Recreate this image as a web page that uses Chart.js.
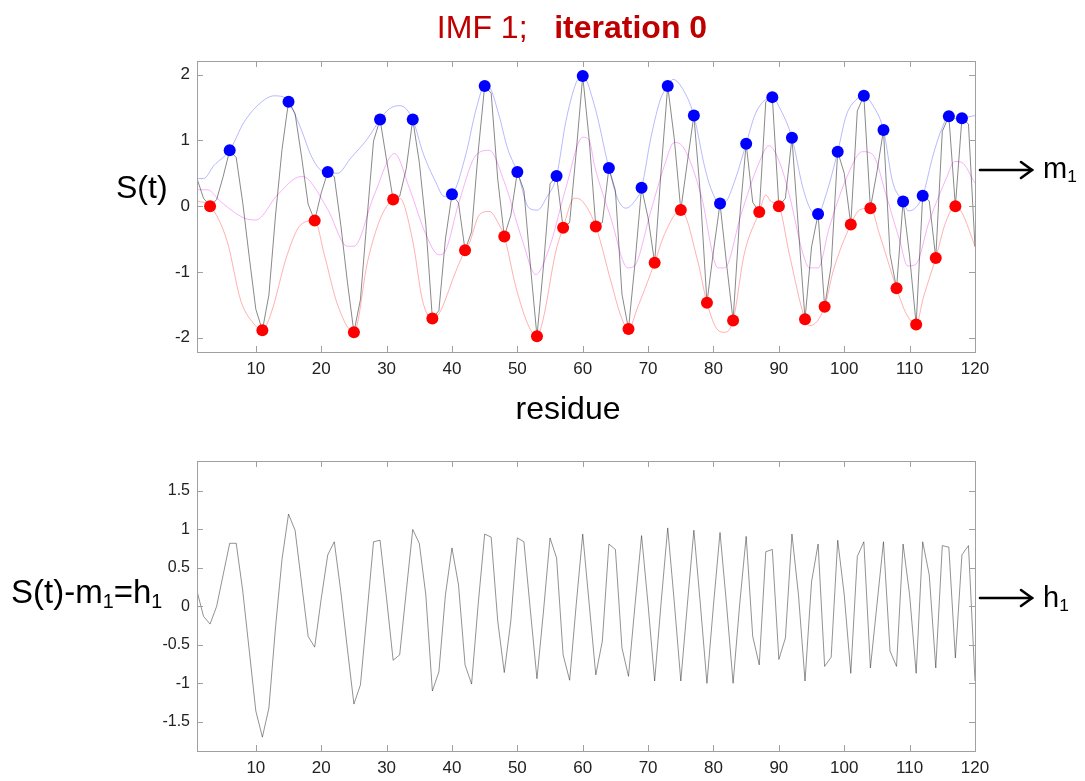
<!DOCTYPE html>
<html>
<head>
<meta charset="utf-8">
<script src="https://cdn.jsdelivr.net/npm/chart.js@4.4.1/dist/chart.umd.min.js"></script>
<style>
  body { margin: 0; background: #fff; width: 1085px; height: 781px; overflow: hidden; position: relative; font-family: "Liberation Sans", Arial, sans-serif; }
  canvas { position: absolute; left: 0; }
  #top { top: 0; }
  #bottom { top: 400px; }
  .lbl { position: absolute; line-height: 1; white-space: nowrap; color: #000; }
  .lbl sub { font-size: 0.6em; vertical-align: -0.25em; line-height: 0; }
  svg { position: absolute; left: 0; top: 0; }
</style>
</head>
<body>
<canvas id="top" width="1085" height="400"></canvas>
<canvas id="bottom" width="1085" height="381"></canvas>

<div class="lbl" style="left:572px; top:11px; transform:translateX(-50%); font-size:32px; color:#c00000;">IMF 1;&nbsp;&nbsp; <b>iteration 0</b></div>
<div class="lbl" style="left:116px; top:171px; font-size:32px;">S(t)</div>
<div class="lbl" style="left:568px; top:392px; transform:translateX(-50%); font-size:32px;">residue</div>
<div class="lbl" style="left:1043px; top:154px; font-size:29px;">m<sub>1</sub></div>
<div class="lbl" style="left:11px; top:575px; font-size:33px;">S(t)-m<sub>1</sub>=h<sub>1</sub></div>
<div class="lbl" style="left:1043px; top:583px; font-size:29px;">h<sub>1</sub></div>

<svg width="1085" height="781">
  <g stroke="#000" stroke-width="2.6" fill="none" stroke-linecap="round">
    <line x1="980" y1="170" x2="1032" y2="170"/>
    <polyline points="1021,162 1032,170 1021,178"/>
    <line x1="980" y1="598" x2="1032" y2="598"/>
    <polyline points="1021,590 1032,598 1021,606"/>
  </g>
</svg>

<script>
'use strict'

// sample index (residue)
const t = [1, 2, 3, 4, 5, 6, 7, 8, 9, 10, 11, 12, 13, 14, 15, 16, 17, 18, 19, 20,
    21, 22, 23, 24, 25, 26, 27, 28, 29, 30, 31, 32, 33, 34, 35, 36, 37, 38, 39, 40,
    41, 42, 43, 44, 45, 46, 47, 48, 49, 50, 51, 52, 53, 54, 55, 56, 57, 58, 59, 60,
    61, 62, 63, 64, 65, 66, 67, 68, 69, 70, 71, 72, 73, 74, 75, 76, 77, 78, 79, 80,
    81, 82, 83, 84, 85, 86, 87, 88, 89, 90, 91, 92, 93, 94, 95, 96, 97, 98, 99, 100,
    101, 102, 103, 104, 105, 106, 107, 108, 109, 110, 111, 112, 113, 114, 115, 116, 117, 118, 119, 120];

// signal S(t)
const signal = [0.42, 0.12, 0.00, 0.10, 0.45, 0.85, 0.74, 0.05, -0.78, -1.57,
    -1.89, -1.35, -0.15, 0.86, 1.59, 1.41, 0.75, 0.03, -0.22, 0.20,
    0.52, 0.45, -0.29, -1.15, -1.92, -1.42, -0.20, 0.99, 1.32, 0.70,
    0.10, 0.15, 0.57, 1.32, 0.67, -0.28, -1.71, -1.59, -0.50, 0.18,
    0.05, -0.67, -0.39, 0.82, 1.83, 1.72, 0.41, -0.46, -0.14, 0.52,
    0.24, -0.91, -1.98, -0.91, 0.34, 0.46, -0.33, -0.25, 0.82, 1.98,
    1.00, -0.31, -0.25, 0.58, 0.24, -1.34, -1.87, -0.86, 0.28, -0.18,
    -0.86, 0.56, 1.83, 1.03, -0.06, 0.67, 1.38, 0.17, -1.47, -0.68,
    0.04, -0.88, -1.74, -0.18, 0.95, 0.06, -0.09, 1.59, 1.66, 0.00,
    0.12, 1.04, -0.35, -1.72, -0.62, -0.12, -1.53, -0.91, 0.83, 0.50,
    -0.28, 1.45, 1.68, -0.03, 0.52, 1.16, -0.73, -1.25, 0.07, -0.76,
    -1.80, 0.16, 0.08, -0.79, 1.14, 1.37, 0.00, 1.34, 1.25, -0.62];

// local maxima / minima
const maxT = [6, 15, 21, 29, 34, 40, 45, 50, 56, 60, 64, 69, 73, 77, 81, 85, 89, 92, 96, 99, 103, 106, 109, 112, 116, 118];
const maxS = [0.85, 1.59, 0.52, 1.32, 1.32, 0.18, 1.83, 0.52, 0.46, 1.98, 0.58, 0.28, 1.83, 1.38, 0.04, 0.95, 1.66, 1.04, -0.12, 0.83, 1.68, 1.16, 0.07, 0.16, 1.37, 1.34];
const minT = [3, 11, 19, 25, 31, 37, 42, 48, 53, 57, 62, 67, 71, 75, 79, 83, 87, 90, 94, 97, 101, 104, 108, 111, 114, 117];
const minS = [0.00, -1.89, -0.22, -1.92, 0.10, -1.71, -0.67, -0.46, -1.98, -0.33, -0.31, -1.87, -0.86, -0.06, -1.47, -1.74, -0.09, 0.00, -1.72, -1.53, -0.28, -0.03, -1.25, -1.80, -0.79, 0.00];

// upper envelope
const upperT = [1, 2, 3.6, 6, 8.2, 10.8, 12.8, 14, 15, 16.9, 18.4, 19.9, 21, 22.5, 24.5, 27.1, 29, 30.4, 32, 34,
    35.5, 37.5, 38.8, 40, 42.1, 43.7, 45, 45.7, 47.2, 48.5, 50, 51.8, 53.1, 54.4, 56, 57.4, 59, 60, 61.8, 64,
    65.3, 66.6, 67.9, 69, 70.4, 71.9, 73, 73.8, 75, 77, 78.6, 79.6, 81, 81.9, 83.2, 85, 86.3, 87.5, 89, 90.1,
    92, 93.7, 94.9, 96, 97.2, 99, 100.3, 101.8, 103, 104.4, 106, 107.4, 109, 109.8, 110.6, 112, 113.6, 115, 116, 117, 118, 120];
const upperS = [0.42, 0.42, 0.62, 0.85, 1.28, 1.58, 1.68, 1.67, 1.59, 1.18, 0.78, 0.55, 0.52, 0.50, 0.73, 1.03, 1.32, 1.48, 1.53, 1.32,
    0.83, 0.37, 0.15, 0.18, 0.78, 1.48, 1.83, 1.81, 1.38, 0.88, 0.52, -0.03, -0.06, 0.12, 0.46, 1.28, 1.88, 1.98, 1.53, 0.58,
    0.12, -0.03, 0.07, 0.28, 1.03, 1.63, 1.83, 1.93, 1.83, 1.38, 0.62, 0.27, 0.04, 0.07, 0.37, 0.95, 1.38, 1.58, 1.66, 1.50,
    1.04, 0.27, -0.06, -0.12, 0.17, 0.83, 1.38, 1.62, 1.68, 1.53, 1.16, 0.37, 0.07, -0.07, -0.05, 0.16, 0.78, 1.20, 1.37, 1.33, 1.34, 1.38];

// lower envelope
const lowerT = [1, 3, 5.6, 7.7, 9.7, 11, 12.3, 14.8, 16.9, 19, 20.5, 22.5, 25, 27.1, 29, 31, 32, 34, 35.5, 37,
    38, 40.6, 42, 42.6, 44.2, 45.7, 47.2, 48, 49.8, 51.8, 53, 53.9, 55.9, 57, 58.7, 60, 62, 64.3, 65.9, 67,
    68.4, 71, 72.5, 75, 77.6, 79, 80.7, 81.7, 83, 84.7, 87, 88, 88.8, 90, 91.6, 94, 94.7, 97, 98.3, 101,
    102.3, 104, 105.4, 108, 109.5, 111, 112.1, 114, 115.5, 117, 118, 120];
const lowerS = [0.08, 0.00, -0.53, -1.44, -1.79, -1.89, -1.64, -0.74, -0.28, -0.22, -0.75, -1.50, -1.92, -0.84, -0.20, 0.10, 0.12, -0.53, -1.44, -1.71,
    -1.64, -0.99, -0.67, -0.58, -0.13, -0.08, -0.28, -0.46, -1.24, -1.84, -1.98, -1.74, -0.68, -0.33, 0.12, 0.07, -0.31, -1.14, -1.69, -1.87,
    -1.54, -0.86, -0.43, -0.06, -0.84, -1.47, -1.89, -1.92, -1.74, -0.73, -0.09, 0.17, 0.07, 0.00, -0.73, -1.72, -1.82, -1.53, -0.99, -0.28,
    -0.06, -0.03, -0.43, -1.25, -1.64, -1.80, -1.39, -0.79, -0.25, 0.00, -0.10, -0.61];

// mean envelope m1 (magenta curve)
const meanT = [1, 2.6, 4.6, 8.2, 10, 13.3, 16.9, 17.9, 21, 24, 25, 28.1, 31.2, 33.5, 36, 38, 38.8, 41.1, 43.7, 45.7,
    48, 50.8, 52.8, 54.9, 57.4, 60, 61, 61.8, 64.3, 66.9, 67.9, 70.4, 72.5, 74, 75.5, 78.1, 80.7, 81.7, 84.2, 86.8,
    88.5, 90.1, 91.6, 93.7, 94.7, 96, 97.7, 100.3, 102.8, 104.4, 106.4, 108.5, 109.7, 110.9, 113, 115.6, 116.9, 117.9, 120];
const meanS = [0.25, 0.25, 0.07, -0.18, -0.21, 0.17, 0.45, 0.42, -0.05, -0.61, -0.61, 0.17, 0.80, 0.27, -0.43, -0.74, -0.71, 0.07, 0.78, 0.85,
    0.37, -0.53, -1.04, -0.63, 0.27, 1.05, 1.00, 0.62, -0.18, -0.94, -0.91, -0.08, 0.62, 0.97, 0.88, 0.17, -0.94, -0.94, -0.13, 0.62,
    0.92, 0.67, 0.17, -0.73, -0.94, -0.94, -0.33, 0.42, 0.83, 0.78, 0.17, -0.53, -0.91, -0.89, -0.23, 0.42, 0.68, 0.67, 0.35];

// h1 = S(t) - m1
const h1 = [0.20, -0.13, -0.23, 0.00, 0.41, 0.82, 0.82, 0.20, -0.58, -1.36,
    -1.70, -1.32, -0.28, 0.61, 1.20, 0.99, 0.30, -0.39, -0.53, 0.10,
    0.67, 0.84, 0.19, -0.55, -1.27, -1.02, -0.10, 0.84, 0.86, 0.10,
    -0.70, -0.63, 0.19, 1.00, 0.82, 0.15, -1.10, -0.85, 0.15, 0.76,
    0.28, -0.76, -1.01, 0.02, 0.94, 0.90, -0.19, -0.86, -0.19, 0.89,
    0.84, -0.06, -0.94, -0.06, 0.89, 0.63, -0.63, -0.96, 0.02, 0.94,
    0.02, -0.89, -0.45, 0.81, 0.74, -0.54, -0.91, 0.02, 0.92, 0.02,
    -0.97, 0.06, 1.02, 0.06, -0.97, 0.02, 0.99, 0.02, -1.00, 0.02,
    0.96, 0.02, -1.00, 0.02, 0.91, -0.39, -0.76, 0.71, 0.74, -0.69,
    -0.41, 0.94, 0.15, -0.97, 0.32, 0.81, -0.78, -0.66, 0.86, 0.15,
    -0.87, 0.65, 0.84, -0.80, 0.02, 0.84, -0.58, -0.78, 0.81, 0.15,
    -0.87, 0.84, 0.41, -0.80, 0.79, 0.77, -0.67, 0.67, 0.79, -0.97];

// tick labels
const xTicks = [10, 20, 30, 40, 50, 60, 70, 80, 90, 100, 110, 120];
const yTicksTop = [-2, -1, 0, 1, 2];
const yTicksBottom = [-1.5, -1, -0.5, 0, 0.5, 1, 1.5];

function pts(xs, ys) {
    return xs.map((x, i) => ({ x: x, y: ys[i] }));
}

const framePlugin = {
    id: 'frame',
    afterDraw(chart) {
        const ctx = chart.ctx;
        const a = chart.chartArea;
        const xs = chart.scales.x;
        const ys = chart.scales.y;
        ctx.save();
        ctx.strokeStyle = '#a0a0a0';
        ctx.lineWidth = 1;
        ctx.strokeRect(Math.round(a.left) + 0.5, Math.round(a.top) + 0.5, Math.round(a.right - a.left), Math.round(a.bottom - a.top));
        ctx.beginPath();
        xs.ticks.forEach(tk => {
            const px = Math.round(xs.getPixelForValue(tk.value)) + 0.5;
            ctx.moveTo(px, a.bottom); ctx.lineTo(px, a.bottom - 6);
            ctx.moveTo(px, a.top); ctx.lineTo(px, a.top + 6);
        });
        ys.ticks.forEach(tk => {
            const py = Math.round(ys.getPixelForValue(tk.value)) + 0.5;
            ctx.moveTo(a.left, py); ctx.lineTo(a.left + 6, py);
            ctx.moveTo(a.right, py); ctx.lineTo(a.right - 6, py);
        });
        ctx.stroke();
        ctx.restore();
    }
};

function axes(yMin, yMax, yTicks, yFont) {
    return {
        x: {
            type: 'linear', min: 1, max: 120,
            grid: { display: false, drawTicks: false },
            border: { display: false },
            afterBuildTicks: s => { s.ticks = xTicks.map(v => ({ value: v })); },
            afterFit: s => { s.height = 30; },
            ticks: { color: '#222', padding: 7, font: { family: 'Liberation Sans', size: 17 }, maxRotation: 0, callback: v => String(v) }
        },
        y: {
            type: 'linear', min: yMin, max: yMax,
            grid: { display: false, drawTicks: false },
            border: { display: false },
            afterBuildTicks: s => { s.ticks = yTicks.map(v => ({ value: v })); },
            afterFit: s => { s.width = 50; },
            ticks: { color: '#222', padding: 7, font: { family: 'Liberation Sans', size: yFont }, callback: v => String(v) }
        }
    };
}

const common = {
    responsive: false,
    animation: false,
    events: [],
    plugins: { legend: { display: false }, tooltip: { enabled: false } }
};

new Chart(document.getElementById('top'), {
    type: 'scatter',
    data: {
        datasets: [
            {
                data: pts(maxT, maxS), showLine: false, order: 0,
                pointRadius: 6, pointBorderWidth: 0, pointBackgroundColor: '#0000ff'
            },
            {
                data: pts(minT, minS), showLine: false, order: 1,
                pointRadius: 6, pointBorderWidth: 0, pointBackgroundColor: '#ff0000'
            },
            {
                data: pts(t, signal), showLine: true, order: 2,
                borderColor: 'rgba(40,40,40,0.55)', borderWidth: 1, pointRadius: 0
            },
            {
                data: pts(upperT, upperS), showLine: true, order: 3, cubicInterpolationMode: 'monotone',
                borderColor: 'rgba(80,80,255,0.4)', borderWidth: 1, pointRadius: 0
            },
            {
                data: pts(lowerT, lowerS), showLine: true, order: 4, cubicInterpolationMode: 'monotone',
                borderColor: 'rgba(255,60,60,0.4)', borderWidth: 1, pointRadius: 0
            },
            {
                data: pts(meanT, meanS), showLine: true, order: 5, cubicInterpolationMode: 'monotone',
                borderColor: 'rgba(240,60,240,0.4)', borderWidth: 1, pointRadius: 0
            }
        ]
    },
    options: Object.assign({}, common, {
        layout: { padding: { left: 147, right: 110, top: 61, bottom: 18 } },
        scales: axes(-2.22, 2.21, yTicksTop, 17)
    }),
    plugins: [framePlugin]
});

new Chart(document.getElementById('bottom'), {
    type: 'scatter',
    data: {
        datasets: [
            {
                data: pts(t, h1), showLine: true,
                borderColor: 'rgba(40,40,40,0.5)', borderWidth: 1, pointRadius: 0
            }
        ]
    },
    options: Object.assign({}, common, {
        layout: { padding: { left: 147, right: 110, top: 61, bottom: 0 } },
        scales: axes(-1.88, 1.89, yTicksBottom, 16)
    }),
    plugins: [framePlugin]
});
</script>
</body>
</html>
